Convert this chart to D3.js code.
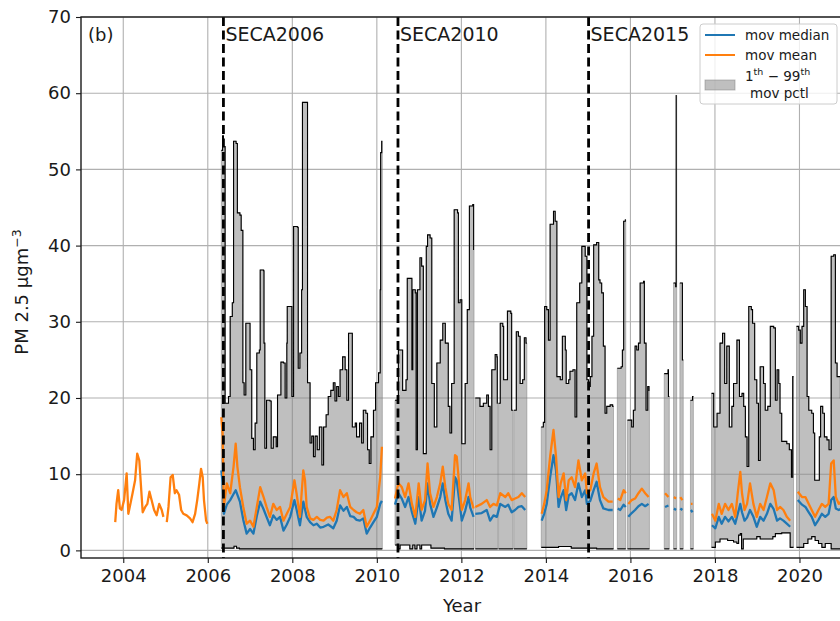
<!DOCTYPE html>
<html><head><meta charset="utf-8">
<script src="https://cdn.jsdelivr.net/npm/d3@7"></script>
<style>
body{margin:0;background:#fff}
svg{display:block}
text{font-family:"DejaVu Sans",sans-serif;fill:#1a1a1a}
</style>
</head><body>
<svg id="chart" width="840" height="621"></svg>
<script>
// ---------- data ----------
const xTicks = [2004, 2006, 2008, 2010, 2012, 2014, 2016, 2018, 2020];
const yTicks = [0, 10, 20, 30, 40, 50, 60, 70];
const secaYears = [2006.37, 2010.50, 2015.01];
const secaLabels = ["SECA2006", "SECA2010", "SECA2015"];

// periods with percentile data (start, end)
const bandSegments = [
  [2006.32, 2010.13], [2010.43, 2012.30], [2012.33, 2012.86], [2012.88, 2013.22],
  [2013.24, 2013.55], [2013.89, 2015.60], [2015.69, 2015.89], [2015.93, 2016.45],
  [2016.80, 2016.92], [2017.02, 2017.095], [2017.17, 2017.25], [2017.42, 2017.49],
  [2017.92, 2019.86], [2019.93, 2021.10]
];

// 99th moving percentile
const pct99 = [
  [2006.32, 52.5], [2006.35, 54.4], [2006.37, 53.0], [2006.41, 19.3], [2006.49, 20.2], [2006.53, 30.7],
  [2006.58, 32.5], [2006.61, 53.7], [2006.67, 53.4], [2006.70, 44.3], [2006.76, 44.0], [2006.79, 42.0],
  [2006.83, 22.0], [2006.86, 20.4], [2006.90, 29.8], [2006.96, 29.8], [2007.00, 23.7], [2007.04, 14.7],
  [2007.08, 13.2], [2007.12, 16.7], [2007.16, 25.9], [2007.22, 26.3], [2007.24, 36.8], [2007.32, 36.7],
  [2007.33, 27.2], [2007.35, 13.4], [2007.39, 19.7], [2007.47, 19.6], [2007.50, 13.4], [2007.55, 14.9],
  [2007.62, 13.6], [2007.65, 20.4], [2007.71, 20.4], [2007.73, 24.7], [2007.79, 24.6], [2007.83, 20.0],
  [2007.87, 27.2], [2007.88, 32.0], [2007.96, 32.0], [2007.99, 20.2], [2008.03, 42.5], [2008.12, 42.4],
  [2008.14, 23.9], [2008.18, 25.9], [2008.22, 34.2], [2008.24, 58.8], [2008.34, 58.8], [2008.36, 22.0],
  [2008.42, 14.1], [2008.46, 15.0], [2008.50, 12.3], [2008.54, 15.0], [2008.59, 13.2], [2008.64, 16.2],
  [2008.70, 11.2], [2008.74, 16.2], [2008.80, 17.8], [2008.85, 20.2], [2008.91, 21.0], [2008.97, 22.0],
  [2009.01, 19.6], [2009.05, 21.5], [2009.09, 20.2], [2009.13, 23.7], [2009.19, 25.4], [2009.25, 23.7],
  [2009.29, 19.7], [2009.33, 28.5], [2009.41, 28.5], [2009.42, 16.2], [2009.49, 16.7], [2009.52, 14.9],
  [2009.59, 16.7], [2009.64, 14.1], [2009.68, 18.4], [2009.74, 18.0], [2009.78, 13.2], [2009.82, 11.4],
  [2009.86, 14.9], [2009.92, 18.4], [2009.97, 22.0], [2010.04, 23.3], [2010.08, 34.2], [2010.09, 52.2],
  [2010.115, 53.7],
  [2010.43, 19.7], [2010.51, 26.3], [2010.59, 26.3], [2010.61, 21.0], [2010.69, 22.4], [2010.72, 35.7],
  [2010.80, 35.7], [2010.83, 23.7], [2010.85, 34.2], [2010.91, 33.8], [2010.93, 13.2], [2010.96, 34.2],
  [2011.02, 38.4], [2011.06, 37.3], [2011.10, 12.7], [2011.17, 39.9], [2011.20, 41.4], [2011.26, 41.0],
  [2011.30, 21.9], [2011.36, 16.2], [2011.42, 24.6], [2011.50, 27.6], [2011.56, 29.8], [2011.62, 27.2],
  [2011.69, 18.9], [2011.73, 15.4], [2011.77, 21.9], [2011.83, 44.7], [2011.91, 44.3], [2011.93, 32.5],
  [2011.97, 32.9], [2012.01, 14.0], [2012.09, 21.9], [2012.14, 31.6], [2012.19, 45.2], [2012.27, 45.4],
  [2012.29, 39.5], [2012.33, 20.0], [2012.44, 18.9], [2012.52, 19.3], [2012.60, 20.4], [2012.64, 18.9],
  [2012.68, 13.2], [2012.72, 23.7], [2012.80, 25.7], [2012.84, 25.4], [2012.85, 19.3], [2012.92, 29.8],
  [2012.98, 29.4], [2013.00, 22.4], [2013.06, 22.4], [2013.09, 31.4], [2013.17, 31.1], [2013.19, 18.4],
  [2013.30, 28.7], [2013.35, 28.1], [2013.39, 21.9], [2013.45, 22.4], [2013.49, 27.9], [2013.53, 27.2],
  [2013.89, 16.2], [2013.94, 16.8], [2013.97, 32.0], [2014.02, 31.6], [2014.06, 27.6], [2014.10, 42.8],
  [2014.16, 42.8], [2014.18, 44.5], [2014.22, 43.2], [2014.26, 22.8], [2014.34, 22.4], [2014.39, 28.1],
  [2014.46, 26.3], [2014.48, 21.9], [2014.54, 22.4], [2014.57, 23.5], [2014.64, 23.7], [2014.69, 17.5],
  [2014.73, 32.5], [2014.80, 35.1], [2014.85, 39.9], [2014.93, 38.6], [2014.97, 22.4], [2015.01, 21.5],
  [2015.05, 22.8], [2015.09, 28.1], [2015.13, 40.1], [2015.20, 40.4], [2015.25, 35.5], [2015.28, 35.1],
  [2015.32, 33.8], [2015.36, 26.8], [2015.40, 18.0], [2015.44, 18.9], [2015.52, 19.1], [2015.58, 18.9],
  [2015.69, 23.9], [2015.78, 24.1], [2015.81, 26.3], [2015.84, 43.2], [2015.88, 43.4],
  [2015.93, 17.1], [2016.03, 16.2], [2016.07, 18.4], [2016.11, 26.8], [2016.15, 26.3], [2016.19, 27.2],
  [2016.23, 35.1], [2016.31, 35.3], [2016.33, 27.2], [2016.37, 18.4], [2016.41, 21.5], [2016.44, 21.0],
  [2016.80, 23.2], [2016.89, 23.7], [2016.90, 20.2],
  [2017.02, 35.1], [2017.07, 34.6], [2017.083, 59.7],
  [2017.17, 35.1], [2017.23, 25.0],
  [2017.42, 19.7], [2017.47, 20.2],
  [2017.92, 20.6], [2017.97, 16.2], [2018.05, 18.0], [2018.12, 27.2], [2018.18, 28.5], [2018.23, 21.9],
  [2018.28, 26.8], [2018.34, 16.2], [2018.40, 18.9], [2018.44, 21.9], [2018.52, 27.6], [2018.58, 20.2],
  [2018.64, 20.6], [2018.68, 18.9], [2018.72, 14.9], [2018.76, 11.0], [2018.80, 32.0], [2018.86, 31.6],
  [2018.89, 29.8], [2018.94, 22.4], [2018.99, 19.3], [2019.03, 11.8], [2019.07, 24.1], [2019.13, 24.1],
  [2019.15, 21.9], [2019.19, 18.4], [2019.25, 18.9], [2019.31, 29.4], [2019.39, 29.2], [2019.43, 19.7],
  [2019.47, 23.7], [2019.51, 21.9], [2019.54, 18.0], [2019.58, 14.3], [2019.70, 14.0], [2019.76, 13.2],
  [2019.81, 9.6], [2019.84, 22.8],
  [2019.93, 29.4], [2019.98, 28.9], [2020.02, 27.2], [2020.06, 29.4], [2020.10, 34.2], [2020.14, 32.0],
  [2020.18, 20.2], [2020.22, 18.4], [2020.29, 18.0], [2020.33, 15.4], [2020.36, 9.2], [2020.44, 9.2],
  [2020.47, 14.9], [2020.50, 18.9], [2020.55, 18.0], [2020.59, 14.9], [2020.65, 14.5], [2020.70, 13.2],
  [2020.75, 38.6], [2020.81, 38.8], [2020.85, 24.6], [2020.89, 22.8], [2020.97, 20.0]
];

// 1st moving percentile
const pct1 = [
  [2006.32, 0.3], [2006.62, 0.55], [2006.68, 0.3], [2006.75, 0.2],
  [2010.43, 0.7], [2010.50, 0.2], [2010.55, 0.7], [2010.78, 0.2], [2010.85, 0.7], [2010.90, 0.2],
  [2010.95, 0.7], [2011.02, 0.2], [2011.06, 0.7], [2011.28, 0.3], [2011.60, 0.2],
  [2013.89, 0.4], [2014.30, 0.5], [2014.60, 0.3], [2015.20, 0.2],
  [2017.92, 0.4], [2018.01, 1.1], [2018.12, 1.5], [2018.30, 1.3], [2018.44, 1.1], [2018.52, 0.9],
  [2018.56, 2.0], [2018.60, 2.2], [2018.63, 0.2], [2018.67, 1.5], [2018.99, 1.8], [2019.07, 1.5],
  [2019.37, 1.8], [2019.43, 2.2], [2019.58, 2.3], [2019.78, 0.4],
  [2019.93, 0.4], [2020.10, 0.9], [2020.20, 1.5], [2020.29, 1.8], [2020.37, 1.3], [2020.45, 0.9],
  [2020.53, 0.4], [2020.61, 0.9], [2020.75, 0.2]
];

// moving median (null = gap)
const movMedian = [
  [2006.32, 10.5], [2006.35, 9.0], [2006.38, 4.8], [2006.45, 6.0], [2006.53, 6.6], [2006.61, 7.4], [2006.66, 7.9],
  [2006.76, 6.4], [2006.84, 4.0], [2006.92, 2.2], [2007.00, 2.8], [2007.08, 2.2], [2007.16, 4.5], [2007.24, 6.4],
  [2007.32, 5.4], [2007.39, 4.4], [2007.47, 3.3], [2007.55, 4.6], [2007.63, 4.0], [2007.71, 4.4], [2007.79, 2.6],
  [2007.87, 3.4], [2007.95, 4.4], [2008.05, 6.6], [2008.10, 5.4], [2008.18, 3.3], [2008.26, 6.4], [2008.34, 4.4],
  [2008.42, 3.7], [2008.50, 3.3], [2008.58, 3.5], [2008.66, 3.0], [2008.74, 3.1], [2008.85, 3.4], [2008.97, 2.9],
  [2009.05, 3.9], [2009.13, 5.9], [2009.21, 5.2], [2009.29, 5.7], [2009.37, 4.5], [2009.45, 4.4], [2009.52, 4.0],
  [2009.60, 3.9], [2009.68, 4.2], [2009.76, 2.2], [2009.84, 3.0], [2009.92, 3.7], [2010.00, 4.4], [2010.08, 6.1],
  [2010.12, 6.5], [2010.20, null],
  [2010.43, 6.0], [2010.51, 7.5], [2010.59, 6.8], [2010.67, 5.7], [2010.75, 7.0], [2010.83, 5.0], [2010.91, 3.5],
  [2010.99, 7.0], [2011.06, 3.9], [2011.14, 5.2], [2011.20, 8.8], [2011.26, 6.1], [2011.34, 4.4], [2011.42, 5.6],
  [2011.50, 7.0], [2011.56, 8.8], [2011.62, 6.6], [2011.69, 4.8], [2011.77, 3.9], [2011.85, 9.6], [2011.89, 9.2],
  [2011.96, 6.1], [2012.01, 3.9], [2012.09, 5.2], [2012.17, 7.0], [2012.21, 5.6], [2012.29, 4.4], [2012.31, null],
  [2012.33, 4.8], [2012.48, 4.9], [2012.60, 5.3], [2012.68, 3.9], [2012.76, 4.6], [2012.84, 4.4], [2012.92, 6.1],
  [2013.04, 5.7], [2013.11, 6.0], [2013.19, 5.0], [2013.27, 5.3], [2013.35, 5.7], [2013.43, 5.8], [2013.51, 5.3],
  [2013.60, null],
  [2013.90, 3.9], [2013.96, 4.8], [2014.02, 6.1], [2014.10, 9.6], [2014.18, 12.5], [2014.24, 10.5], [2014.30, 5.7],
  [2014.35, 6.9], [2014.42, 7.9], [2014.48, 5.3], [2014.54, 7.2], [2014.61, 7.5], [2014.69, 6.6], [2014.77, 8.8],
  [2014.85, 7.0], [2014.93, 7.9], [2014.97, 6.1], [2015.05, 6.5], [2015.13, 7.9], [2015.20, 9.0], [2015.28, 6.6],
  [2015.36, 5.5], [2015.48, 5.3], [2015.58, 5.3], [2015.64, null],
  [2015.70, 5.5], [2015.76, 5.3], [2015.84, 6.0], [2015.89, 5.7], [2015.91, null],
  [2015.95, 4.4], [2016.03, 4.9], [2016.11, 5.3], [2016.19, 5.8], [2016.27, 6.1], [2016.35, 5.8], [2016.43, 6.1],
  [2016.50, null],
  [2016.82, 5.7], [2016.90, 5.9], [2016.95, null],
  [2017.03, 5.5], [2017.08, 5.3], [2017.12, null],
  [2017.18, 5.5], [2017.23, 5.3], [2017.30, null],
  [2017.43, 5.3], [2017.47, 5.0], [2017.60, null],
  [2017.93, 3.3], [2018.01, 2.9], [2018.09, 4.4], [2018.16, 3.5], [2018.24, 4.4], [2018.32, 3.8], [2018.40, 4.4],
  [2018.48, 3.5], [2018.54, 4.8], [2018.60, 6.1], [2018.64, 5.0], [2018.70, 3.9], [2018.76, 4.3], [2018.83, 5.3],
  [2018.91, 4.4], [2018.99, 3.1], [2019.07, 4.4], [2019.15, 3.9], [2019.23, 4.8], [2019.31, 6.1], [2019.39, 5.4],
  [2019.47, 3.9], [2019.54, 4.2], [2019.62, 3.9], [2019.70, 3.5], [2019.78, 3.1], [2019.86, null],
  [2019.96, 6.6], [2020.06, 6.0], [2020.14, 5.7], [2020.22, 5.0], [2020.29, 4.4], [2020.37, 3.3], [2020.45, 4.0],
  [2020.53, 4.8], [2020.61, 4.4], [2020.69, 4.8], [2020.75, 6.6], [2020.81, 7.0], [2020.86, 5.5], [2020.93, 5.3],
  [2021.00, 5.5]
];

// moving mean (null = gap)
const movMean = [
  [2003.81, 3.7], [2003.84, 6.1], [2003.88, 7.9], [2003.92, 5.5], [2003.96, 5.3], [2004.02, 6.6], [2004.08, 10.1],
  [2004.12, 4.8], [2004.18, 6.4], [2004.22, 7.5], [2004.28, 9.2], [2004.33, 12.7], [2004.38, 11.8], [2004.41, 9.2],
  [2004.46, 5.0], [2004.52, 5.7], [2004.57, 6.1], [2004.62, 7.7], [2004.67, 6.6], [2004.73, 5.3], [2004.79, 4.6],
  [2004.85, 6.1], [2004.91, 5.3], [2004.95, 4.4], [2004.99, null],
  [2005.03, 3.7], [2005.07, 5.7], [2005.12, 9.6], [2005.17, 9.9], [2005.22, 7.5], [2005.26, 7.9], [2005.32, 7.3],
  [2005.37, 5.3], [2005.42, 4.8], [2005.50, 4.6], [2005.58, 4.2], [2005.64, 3.7], [2005.70, 4.8], [2005.75, 6.6],
  [2005.80, 8.8], [2005.84, 10.7], [2005.88, 9.6], [2005.91, 6.6], [2005.96, 3.9], [2005.99, 3.5], [2006.10, null],
  [2006.32, 17.5], [2006.35, 15.4], [2006.38, 5.7], [2006.45, 8.8], [2006.53, 7.5], [2006.61, 11.0], [2006.66, 14.0],
  [2006.70, 11.0], [2006.76, 8.3], [2006.84, 5.7], [2006.92, 3.5], [2007.00, 3.9], [2007.08, 3.1], [2007.16, 5.7],
  [2007.24, 8.3], [2007.32, 7.0], [2007.39, 5.7], [2007.47, 4.4], [2007.55, 6.1], [2007.63, 5.3], [2007.71, 5.7],
  [2007.79, 3.9], [2007.87, 4.8], [2007.95, 5.7], [2008.05, 9.2], [2008.10, 7.5], [2008.18, 4.4], [2008.26, 10.5],
  [2008.30, 9.2], [2008.34, 5.7], [2008.42, 4.2], [2008.50, 4.0], [2008.58, 4.4], [2008.66, 4.0], [2008.74, 3.9],
  [2008.82, 4.3], [2008.89, 4.4], [2008.97, 3.9], [2009.05, 5.3], [2009.13, 7.9], [2009.21, 7.0], [2009.29, 7.5],
  [2009.37, 5.7], [2009.45, 5.3], [2009.52, 5.0], [2009.60, 4.8], [2009.68, 5.3], [2009.76, 3.1], [2009.84, 3.9],
  [2009.92, 4.8], [2010.00, 5.7], [2010.08, 9.6], [2010.12, 13.6], [2010.20, null],
  [2010.43, 6.8], [2010.51, 8.8], [2010.59, 8.3], [2010.67, 7.0], [2010.75, 8.8], [2010.83, 6.1], [2010.91, 4.4],
  [2010.99, 8.8], [2011.06, 5.3], [2011.14, 6.6], [2011.20, 11.4], [2011.26, 7.5], [2011.34, 5.7], [2011.42, 7.0],
  [2011.50, 8.8], [2011.56, 11.0], [2011.62, 8.3], [2011.69, 6.1], [2011.77, 5.3], [2011.85, 12.5], [2011.89, 12.3],
  [2011.96, 7.9], [2012.01, 5.3], [2012.09, 6.6], [2012.17, 8.8], [2012.21, 7.0], [2012.29, 5.5], [2012.31, null],
  [2012.33, 5.7], [2012.48, 6.1], [2012.60, 6.6], [2012.68, 5.7], [2012.76, 6.1], [2012.84, 5.9], [2012.92, 7.5],
  [2013.04, 7.0], [2013.11, 7.5], [2013.19, 6.6], [2013.27, 6.8], [2013.35, 7.0], [2013.43, 7.5], [2013.51, 7.0],
  [2013.60, null],
  [2013.90, 4.8], [2013.96, 6.1], [2014.02, 7.9], [2014.10, 12.3], [2014.18, 15.8], [2014.24, 12.3], [2014.30, 7.0],
  [2014.35, 8.8], [2014.42, 10.1], [2014.48, 6.6], [2014.54, 9.2], [2014.61, 9.6], [2014.69, 8.3], [2014.77, 11.8],
  [2014.85, 9.2], [2014.93, 10.1], [2014.97, 7.5], [2015.05, 7.9], [2015.13, 10.1], [2015.20, 11.4], [2015.28, 8.3],
  [2015.36, 7.0], [2015.48, 6.4], [2015.58, 6.4], [2015.64, null],
  [2015.70, 6.8], [2015.76, 6.6], [2015.84, 7.9], [2015.89, 7.5], [2015.91, null],
  [2015.95, 6.1], [2016.03, 6.6], [2016.11, 6.8], [2016.19, 7.5], [2016.27, 8.1], [2016.35, 7.5], [2016.43, 7.0],
  [2016.50, null],
  [2016.82, 7.5], [2016.90, 7.0], [2016.95, null],
  [2017.03, 7.0], [2017.08, 6.8], [2017.12, null],
  [2017.18, 7.0], [2017.23, 6.6], [2017.30, null],
  [2017.43, 6.1], [2017.47, 6.1], [2017.60, null],
  [2017.93, 4.8], [2018.01, 3.9], [2018.09, 6.1], [2018.16, 4.8], [2018.24, 6.1], [2018.32, 5.3], [2018.40, 6.1],
  [2018.48, 4.4], [2018.54, 7.5], [2018.60, 10.3], [2018.64, 7.5], [2018.70, 5.3], [2018.76, 6.1], [2018.83, 8.8],
  [2018.91, 6.1], [2018.99, 4.4], [2019.07, 6.1], [2019.15, 5.3], [2019.23, 7.0], [2019.31, 8.8], [2019.39, 7.9],
  [2019.47, 5.3], [2019.54, 5.7], [2019.62, 5.3], [2019.70, 4.4], [2019.78, 3.9], [2019.86, null],
  [2019.96, 7.7], [2020.06, 7.0], [2020.14, 7.0], [2020.22, 6.1], [2020.29, 5.3], [2020.37, 4.4], [2020.45, 5.3],
  [2020.53, 6.1], [2020.61, 5.7], [2020.69, 6.1], [2020.75, 11.4], [2020.81, 11.8], [2020.86, 7.0], [2020.93, 6.1],
  [2021.00, 6.5]
];

// ---------- drawing ----------
(function draw() {
  const svg = d3.select("#chart");
  const pL = 81, pR = 843, pT = 17, pB = 558;
  const x = d3.scaleLinear().domain([2003, 2021.03]).range([pL, pR]);
  const y = d3.scaleLinear().domain([-1, 70]).range([pB, pT]);

  svg.append("defs").append("clipPath").attr("id", "plotclip")
    .append("rect").attr("x", pL).attr("y", pT).attr("width", pR - pL).attr("height", pB - pT);

  // grid
  const grid = svg.append("g");
  grid.selectAll(".vg").data(xTicks).join("line")
    .attr("x1", d => x(d)).attr("x2", d => x(d)).attr("y1", pT).attr("y2", pB)
    .attr("stroke", "#b0b0b0").attr("stroke-width", 1.1);
  grid.selectAll(".hg").data(yTicks).join("line")
    .attr("x1", pL).attr("x2", pR).attr("y1", d => y(d)).attr("y2", d => y(d))
    .attr("stroke", "#b0b0b0").attr("stroke-width", 1.1);

  const plot = svg.append("g").attr("clip-path", "url(#plotclip)");

  function stepAt(series, t) {
    let v = series[0][1];
    for (const p of series) { if (p[0] <= t) v = p[1]; else break; }
    return v;
  }
  function clipSeries(series, s, e) {
    const pts = [[s, stepAt(series, s)]];
    for (const p of series) if (p[0] > s && p[0] < e) pts.push(p);
    pts.push([e, stepAt(series, e)]);
    return pts;
  }
  const stepLine = d3.line().x(d => x(d[0])).y(d => y(d[1])).curve(d3.curveStepAfter);
  const stepLineRev = d3.line().x(d => x(d[0])).y(d => y(d[1])).curve(d3.curveStepBefore);

  const segData = bandSegments.map(([s, e]) => ({
    up: clipSeries(pct99, s, e),
    lo: clipSeries(pct1, s, e)
  }));

  // band
  plot.selectAll(".band").data(segData).join("path")
    .attr("d", d => stepLine(d.up) + stepLineRev(d.lo.slice().reverse()).replace(/^M/, "L") + "Z")
    .attr("fill", "grey").attr("fill-opacity", 0.5)
    .attr("stroke", "grey").attr("stroke-opacity", 0.5).attr("stroke-width", 1);

  // percentile outlines
  plot.selectAll(".upl").data(segData).join("path")
    .attr("d", d => stepLine(d.up)).attr("fill", "none").attr("stroke", "#000").attr("stroke-width", 1.1);
  plot.selectAll(".lol").data(segData).join("path")
    .attr("d", d => stepLine(d.lo)).attr("fill", "none").attr("stroke", "#000").attr("stroke-width", 1.1);

  // median / mean
  const line = d3.line().defined(d => d[1] != null).x(d => x(d[0])).y(d => y(d[1]));
  plot.append("path").attr("d", line(movMedian)).attr("fill", "none")
    .attr("stroke", "#1f77b4").attr("stroke-width", 2.3).attr("stroke-linejoin", "round");
  plot.append("path").attr("d", line(movMean)).attr("fill", "none")
    .attr("stroke", "#ff7f0e").attr("stroke-width", 2.3).attr("stroke-linejoin", "round");

  // SECA lines
  svg.selectAll(".seca").data(secaYears).join("line")
    .attr("x1", d => x(d)).attr("x2", d => x(d)).attr("y1", pT).attr("y2", pB)
    .attr("stroke", "#000").attr("stroke-width", 2.8).attr("stroke-dasharray", "9,4.5");
  svg.selectAll(".secat").data(secaYears).join("text")
    .attr("x", d => x(d) + 2).attr("y", 41).attr("font-size", 19)
    .text((d, i) => secaLabels[i]);

  // axes
  const xAxis = svg.append("g").attr("transform", `translate(0,${pB})`)
    .call(d3.axisBottom(x).tickValues(xTicks).tickFormat(d3.format("d")).tickSize(5).tickSizeOuter(0));
  const yAxis = svg.append("g").attr("transform", `translate(${pL},0)`)
    .call(d3.axisLeft(y).tickValues(yTicks).tickSize(5).tickSizeOuter(0));
  [xAxis, yAxis].forEach(g => {
    g.select(".domain").remove();
    g.selectAll(".tick line").attr("stroke", "#1a1a1a").attr("stroke-width", 1.1);
    g.selectAll(".tick text").attr("font-family", "DejaVu Sans").attr("font-size", 18).attr("fill", "#1a1a1a");
  });
  xAxis.selectAll(".tick text").attr("y", 11).attr("dy", "0.71em");
  yAxis.selectAll(".tick text").attr("x", -10);

  // spines
  svg.append("rect").attr("x", pL).attr("y", pT).attr("width", pR - pL).attr("height", pB - pT)
    .attr("fill", "none").attr("stroke", "#1a1a1a").attr("stroke-width", 1.4);

  // labels
  svg.append("text").attr("x", 88).attr("y", 41).attr("font-size", 18).text("(b)");
  svg.append("text").attr("x", (pL + pR) / 2).attr("y", 612).attr("text-anchor", "middle")
    .attr("font-size", 18).text("Year");
  const yl = svg.append("text").attr("transform", "translate(28,292) rotate(-90)")
    .attr("text-anchor", "middle").attr("font-size", 18);
  yl.append("tspan").text("PM 2.5 μgm");
  yl.append("tspan").attr("font-size", 12.5).attr("dy", -7).text("−3");

  // legend
  const lg = svg.append("g");
  lg.append("rect").attr("x", 700).attr("y", 24).attr("width", 137).attr("height", 80).attr("rx", 3)
    .attr("fill", "#fff").attr("fill-opacity", 0.8).attr("stroke", "#cccccc").attr("stroke-width", 1);
  lg.append("line").attr("x1", 705).attr("x2", 735).attr("y1", 35).attr("y2", 35)
    .attr("stroke", "#1f77b4").attr("stroke-width", 2);
  lg.append("line").attr("x1", 705).attr("x2", 735).attr("y1", 55).attr("y2", 55)
    .attr("stroke", "#ff7f0e").attr("stroke-width", 2);
  lg.append("rect").attr("x", 705).attr("y", 80).attr("width", 30).attr("height", 10)
    .attr("fill", "grey").attr("fill-opacity", 0.5).attr("stroke", "grey").attr("stroke-opacity", 0.5);
  lg.append("text").attr("x", 745).attr("y", 40).attr("font-size", 13.5).text("mov median");
  lg.append("text").attr("x", 745).attr("y", 60).attr("font-size", 13.5).text("mov mean");
  const l3 = lg.append("text").attr("x", 745).attr("y", 81).attr("font-size", 13.5);
  l3.append("tspan").text("1");
  l3.append("tspan").attr("font-size", 9.5).attr("dy", -6).text("th");
  l3.append("tspan").attr("dy", 6).text(" − 99");
  l3.append("tspan").attr("font-size", 9.5).attr("dy", -6).text("th");
  lg.append("text").attr("x", 750).attr("y", 97.5).attr("font-size", 13.5).text("mov pctl");
})();
</script>
</body></html>
